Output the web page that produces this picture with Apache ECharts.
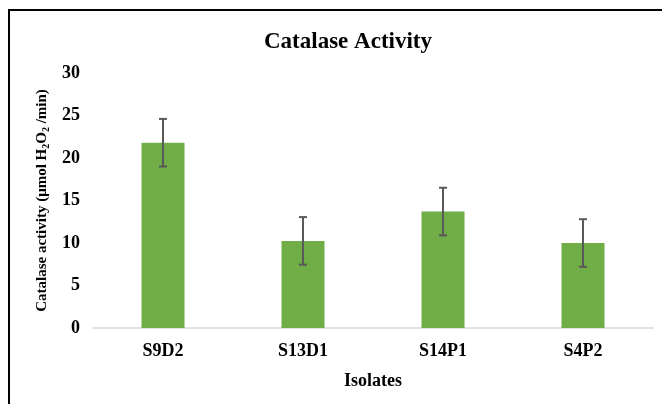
<!DOCTYPE html>
<html>
<head>
<meta charset="utf-8">
<script src="https://cdn.jsdelivr.net/npm/echarts@6/dist/echarts.min.js"></script>
<style>
  html, body { margin: 0; padding: 0; background: #fff; }
  #main { width: 662px; height: 404px; }
</style>
</head>
<body>
<div id="main"></div>
<script>
var categories = ['S9D2', 'S13D1', 'S14P1', 'S4P2'];
var activity = [21.8, 10.25, 13.7, 10.0];
var errors = [2.8, 2.8, 2.8, 2.8];
var yTicks = [0, 5, 10, 15, 20, 25, 30];

var serif = '"Liberation Serif", "Times New Roman", serif';

var chart = echarts.init(document.getElementById('main'));

// error bar data: [index, low, high]
var errData = activity.map(function (v, i) {
    return [i, v - errors[i], v + errors[i]];
});

var option = {
    animation: false,
    backgroundColor: '#fff',
    title: {
        text: 'Catalase Activity',
        left: 343,
        top: 26,
        textAlign: 'center',
        textStyle: {
            fontFamily: serif,
            fontSize: 23,
            fontWeight: 'bold',
            color: '#000'
        }
    },
    graphic: [{
        type: 'rect',
        shape: { x: 9, y: 10, width: 700, height: 450 },
        style: { fill: 'none', stroke: '#000', lineWidth: 2 },
        silent: true
    }],
    grid: {
        left: 93,
        right: 9,
        top: 73,
        bottom: 76
    },
    xAxis: {
        type: 'category',
        data: categories,
        name: 'Isolates',
        nameLocation: 'middle',
        nameGap: 44,
        nameTextStyle: {
            fontFamily: serif,
            fontSize: 18,
            fontWeight: 'bold',
            color: '#000'
        },
        axisLine: { lineStyle: { color: '#d9d9d9', width: 1.5 } },
        axisTick: { show: false },
        axisLabel: {
            margin: 14,
            fontFamily: serif,
            fontSize: 18,
            fontWeight: 'bold',
            color: '#000'
        }
    },
    yAxis: {
        type: 'value',
        min: yTicks[0],
        max: yTicks[yTicks.length - 1],
        interval: 5,
        name: '{a|Catalase activity (μmol H}{s|2}{a|O}{s|2}{a| /min)}',
        nameLocation: 'middle',
        nameGap: 42,
        nameRotate: 90,
        nameTextStyle: {
            rich: {
                a: {
                    fontFamily: serif,
                    fontSize: 15,
                    fontWeight: 'bold',
                    color: '#000',
                    lineHeight: 18,
                    verticalAlign: 'middle'
                },
                s: {
                    fontFamily: serif,
                    fontSize: 10,
                    fontWeight: 'bold',
                    color: '#000',
                    lineHeight: 10,
                    verticalAlign: 'bottom'
                }
            }
        },
        axisLine: { show: false },
        axisTick: { show: false },
        splitLine: { show: false },
        axisLabel: {
            margin: 13,
            fontFamily: serif,
            fontSize: 18,
            fontWeight: 'bold',
            color: '#000'
        }
    },
    series: [{
        name: 'Catalase activity',
        type: 'bar',
        data: activity,
        barWidth: 43,
        itemStyle: { color: '#70ad47' }
    }, {
        name: 'error',
        type: 'custom',
        data: errData,
        z: 10,
        renderItem: function (params, api) {
            var x = api.value(0);
            var lo = api.coord([x, api.value(1)]);
            var hi = api.coord([x, api.value(2)]);
            var cap = 4;
            var style = { stroke: '#595959', lineWidth: 2 };
            return {
                type: 'group',
                children: [{
                    type: 'line',
                    shape: { x1: lo[0], y1: lo[1], x2: hi[0], y2: hi[1] },
                    style: style
                }, {
                    type: 'line',
                    shape: { x1: hi[0] - cap, y1: hi[1], x2: hi[0] + cap, y2: hi[1] },
                    style: style
                }, {
                    type: 'line',
                    shape: { x1: lo[0] - cap, y1: lo[1], x2: lo[0] + cap, y2: lo[1] },
                    style: style
                }]
            };
        }
    }]
};

chart.setOption(option);
</script>
</body>
</html>
